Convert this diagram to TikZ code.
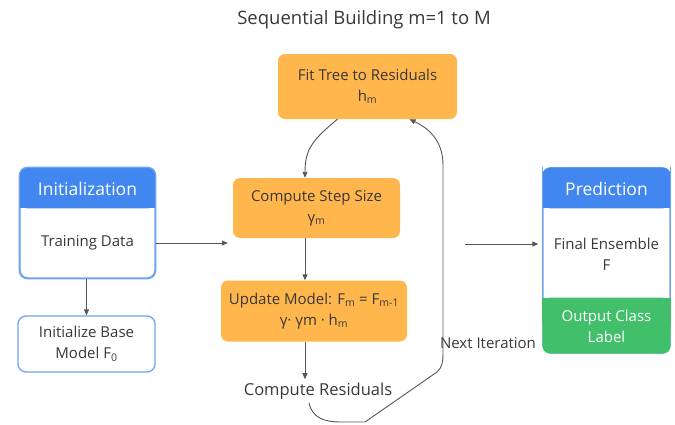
\documentclass[tikz,border=0pt]{standalone}
\usepackage{fontspec}
\setmainfont{Open Sans}
\usetikzlibrary{arrows.meta,calc}
\definecolor{orng}{HTML}{FFB74D}
\definecolor{gblue}{HTML}{4287F0}
\definecolor{lblue}{HTML}{6FA3EC}
\definecolor{ggreen}{HTML}{41BF6A}
\definecolor{txt}{HTML}{383838}
\definecolor{conn}{HTML}{555555}
\begin{document}
\begin{tikzpicture}[x=1pt,y=-1pt,
  obox/.style={fill=orng, rounded corners=7pt, align=center, text=txt, font=\fontsize{15}{21}\selectfont},
  wbox/.style={fill=white, draw=lblue, line width=1.3pt, rounded corners=8pt, align=center, text=txt, font=\fontsize{15}{21}\selectfont},
  plain/.style={text=txt, align=center, font=\fontsize{15}{21}\selectfont},
  head/.style={text=white, font=\fontsize{17.5}{20}\selectfont},
  arr/.style={draw=conn, line width=0.9pt, -{Triangle[length=6pt,width=5pt]}}
]
\useasboundingbox (0,0) rectangle (675,424);
\node[text=txt, font=\fontsize{18.5}{22}\selectfont] (title) at (364,20) {Sequential Building m=1 to M};

% orange boxes
\node[obox, minimum width=179pt, minimum height=65pt] (fit) at (367.5,86.5) {Fit Tree to Residuals\\h\textsubscript{m}};
\node[obox, minimum width=167pt, minimum height=60pt] (step) at (316.5,208) {Compute Step Size\\γ\textsubscript{m}};
\node[obox, minimum width=186pt, minimum height=61pt] (update) at (314,311) {Update Model: F\textsubscript{m} = F\textsubscript{m-1}\\γ· γm · h\textsubscript{m}};
\node[plain, font=\fontsize{16.5}{21}\selectfont] (res) at (318,391) {Compute Residuals};

% initialization
\node[wbox, draw=lblue, minimum width=135pt, minimum height=110pt] (init) at (87.5,223) {};
\fill[gblue, rounded corners=8pt] (init.north west) rectangle ($(init.north east)+(0,41)$);
\fill[gblue] ($(init.north west)+(0,20)$) rectangle ($(init.north east)+(0,41)$);
\draw[lblue, line width=1.3pt, rounded corners=8pt] (init.north west) rectangle (init.south east);
\node[head] (inith) at (87.5,189) {Initialization};
\node[plain] (train) at (87.5,243) {Training Data};
\node[wbox, minimum width=137pt, minimum height=56pt] (base) at (86.5,344) {Initialize Base\\Model F\textsubscript{0}};

% prediction
\node[wbox, minimum width=127pt, minimum height=185pt] (pred) at (606.5,260.5) {};
\fill[gblue, rounded corners=8pt] (pred.north west) rectangle ($(pred.north east)+(0,41)$);
\fill[gblue] ($(pred.north west)+(0,20)$) rectangle ($(pred.north east)+(0,41)$);
\fill[ggreen, rounded corners=8pt] ($(pred.south west)+(0,-56)$) rectangle (pred.south east);
\fill[ggreen] ($(pred.south west)+(0,-56)$) rectangle ($(pred.south east)+(0,-30)$);
\draw[lblue, line width=1.3pt, rounded corners=8pt] (pred.north west) -- ($(pred.south west)+(0,-56)$) (pred.north east) -- ($(pred.south east)+(0,-56)$);
\node[head] (predh) at (606.5,189) {Prediction};
\node[plain] (final) at (606.5,254) {Final Ensemble\\F};
\node[plain, text=white] (outp) at (606.5,326) {Output Class\\Label};

\node[plain] (next) at (488,343) {Next Iteration};

% connectors
\draw[arr] ([xshift=-30pt]fit.south) .. controls (312,140) and (305,150) .. ([xshift=-11.5pt]step.north);
\draw[arr] ([xshift=-11.5pt]step.south) -- ([xshift=-9pt]update.north);
\draw[arr] ([xshift=-9pt]update.south) -- ([xshift=-13pt]res.north);
\draw[conn, line width=0.9pt, -{Triangle[length=6pt,width=5pt]}]
  ([xshift=-9pt]res.south) .. controls (312,418) and (325,422) .. (340,422) -- (365,422) -- (437,372)
  .. controls (442,368) and (443,362) .. (443,352) -- (443,165)
  .. controls (443,140) and (428,128) .. ([xshift=42pt]fit.south);
\draw[arr, shorten >=5pt] (init.east |- train) -- (step.west |- train);
\draw[arr] (init.south -| base.north) -- (base.north);
\coordinate (pstart) at (465,244);
\draw[arr, shorten >=4pt] (pstart) -- (pred.west |- pstart);
\end{tikzpicture}
\end{document}
